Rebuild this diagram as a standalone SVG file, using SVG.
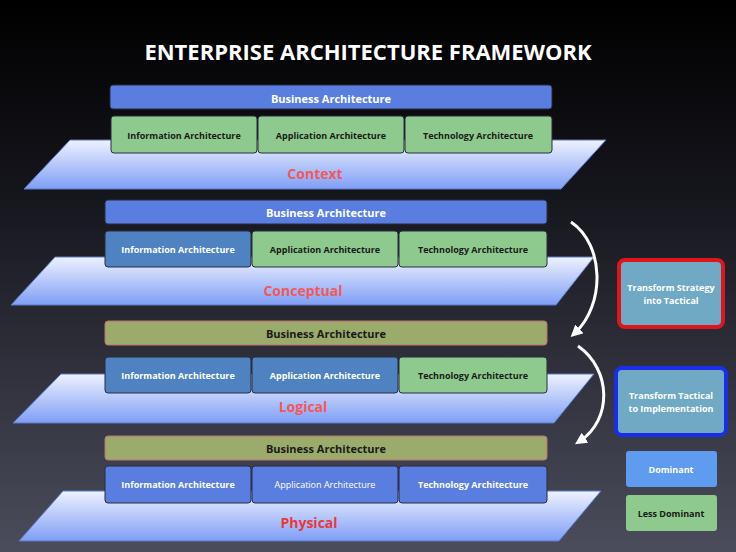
<svg xmlns="http://www.w3.org/2000/svg" width="736" height="552" viewBox="0 0 736 552">
<defs>
<linearGradient id="bg" x1="0" y1="0" x2="0" y2="1"><stop offset="0" stop-color="#000"/><stop offset="0.35" stop-color="#15151c"/><stop offset="1" stop-color="#4b4d5c"/></linearGradient>
<linearGradient id="plane" x1="0" y1="0" x2="0" y2="1"><stop offset="0" stop-color="#eef2ff"/><stop offset="1" stop-color="#7f9ef5"/></linearGradient>
<marker id="ah" viewBox="0 0 10 10" refX="5" refY="5" markerWidth="4" markerHeight="4" orient="auto"><path d="M0,0 L10,5 L0,10 Z" fill="#fff"/></marker>
</defs>
<style>
.pl{fill:url(#plane);stroke:#5a78c8;stroke-width:1}
.b{stroke:#2a2a40;stroke-width:1}
.blue{fill:#5a7ee0}.green{fill:#8ec98d}.steel{fill:#4f82c0}.olive{fill:#9aab6c;stroke:#c07070}
.t{font-family:"Open Sans","Liberation Sans",sans-serif;font-weight:bold;text-anchor:middle;dominant-baseline:central}
.s{font-size:9px}.m{font-size:11px}
.w{fill:#fff}.k{fill:#1a1a1a}
.lbl{font-size:14px;fill:#f05a5a}
</style>
<rect width="736" height="552" fill="url(#bg)"/>
<text x="368" y="51" class="t w" style="font-size:22px">ENTERPRISE ARCHITECTURE FRAMEWORK</text>

<g id="layer-context">
<polygon class="pl" points="70,140 606,140 561,189 24,189"/>
<rect class="b blue" x="110" y="85" width="442" height="24" rx="3"/><text class="t m w" x="331" y="98">Business Architecture</text>
<rect class="b green" x="111" y="116" width="146" height="37" rx="3"/><text class="t s k" x="184" y="135">Information Architecture</text>
<rect class="b green" x="258" y="116" width="146" height="37" rx="3"/><text class="t s k" x="331" y="135">Application Architecture</text>
<rect class="b green" x="405" y="116" width="147" height="37" rx="3"/><text class="t s k" x="478" y="135">Technology Architecture</text>
<text class="t lbl" x="315" y="173">Context</text>
</g>

<g id="layer-conceptual">
<polygon class="pl" points="55,257 594,257 556,305 11,305"/>
<rect class="b blue" x="105" y="200" width="442" height="24" rx="3"/><text class="t m w" x="326" y="212">Business Architecture</text>
<rect class="b steel" x="105" y="231" width="146" height="36" rx="3"/><text class="t s w" x="178" y="249">Information Architecture</text>
<rect class="b green" x="252" y="231" width="146" height="36" rx="3"/><text class="t s k" x="325" y="249">Application Architecture</text>
<rect class="b green" x="399" y="231" width="148" height="36" rx="3"/><text class="t s k" x="473" y="249">Technology Architecture</text>
<text class="t lbl" x="303" y="290">Conceptual</text>
</g>

<g id="layer-logical">
<polygon class="pl" points="61,374 594,374 554,423 13,423"/>
<rect class="b olive" x="105" y="321" width="442" height="24" rx="3"/><text class="t m k" x="326" y="333">Business Architecture</text>
<rect class="b steel" x="105" y="357" width="146" height="36" rx="3"/><text class="t s w" x="178" y="375">Information Architecture</text>
<rect class="b steel" x="252" y="357" width="146" height="36" rx="3"/><text class="t s w" x="325" y="375">Application Architecture</text>
<rect class="b green" x="399" y="357" width="148" height="36" rx="3"/><text class="t s k" x="473" y="375">Technology Architecture</text>
<text class="t lbl" x="303" y="406">Logical</text>
</g>

<g id="layer-physical">
<polygon class="pl" points="63,491 601,491 559,541 19,541"/>
<rect class="b olive" x="105" y="436" width="442" height="24" rx="3"/><text class="t m k" x="326" y="448">Business Architecture</text>
<rect class="b blue" x="105" y="466" width="146" height="37" rx="3"/><text class="t s w" x="178" y="484">Information Architecture</text>
<rect class="b blue" x="252" y="466" width="146" height="37" rx="3"/><text class="t s w" x="325" y="484" style="font-weight:normal">Application Architecture</text>
<rect class="b blue" x="399" y="466" width="148" height="37" rx="3"/><text class="t s w" x="473" y="484">Technology Architecture</text>
<text class="t lbl" x="309" y="522" style="fill:#e8383c">Physical</text>
</g>

<g id="connectors" fill="none" stroke="#fff" stroke-width="3">
<path d="M571,222 C605,245 605,305 575,333" marker-end="url(#ah)"/>
<path d="M578,346 C612,370 612,420 580,441" marker-end="url(#ah)"/>
</g>

<g id="strategy">
<rect x="619" y="260" width="104" height="67" rx="6" fill="#6fa9c4" stroke="#e0151c" stroke-width="4"/>
<text class="t s w" x="671" y="287">Transform Strategy</text><text class="t s w" x="671" y="300">into Tactical</text>
</g>
<g id="tactical">
<rect x="616" y="368" width="110" height="67" rx="6" fill="#6fa9c4" stroke="#1a2ee8" stroke-width="4"/>
<text class="t s w" x="671" y="395">Transform Tactical</text><text class="t s w" x="671" y="408">to Implementation</text>
</g>
<g id="dominant">
<rect x="626" y="451" width="91" height="36" rx="3" fill="#5f9cf0"/><text class="t s w" x="671" y="469">Dominant</text>
</g>
<g id="less-dominant">
<rect x="626" y="495" width="91" height="36" rx="3" fill="#8ec98d"/><text class="t s k" x="671" y="513">Less Dominant</text>
</g>
</svg>
